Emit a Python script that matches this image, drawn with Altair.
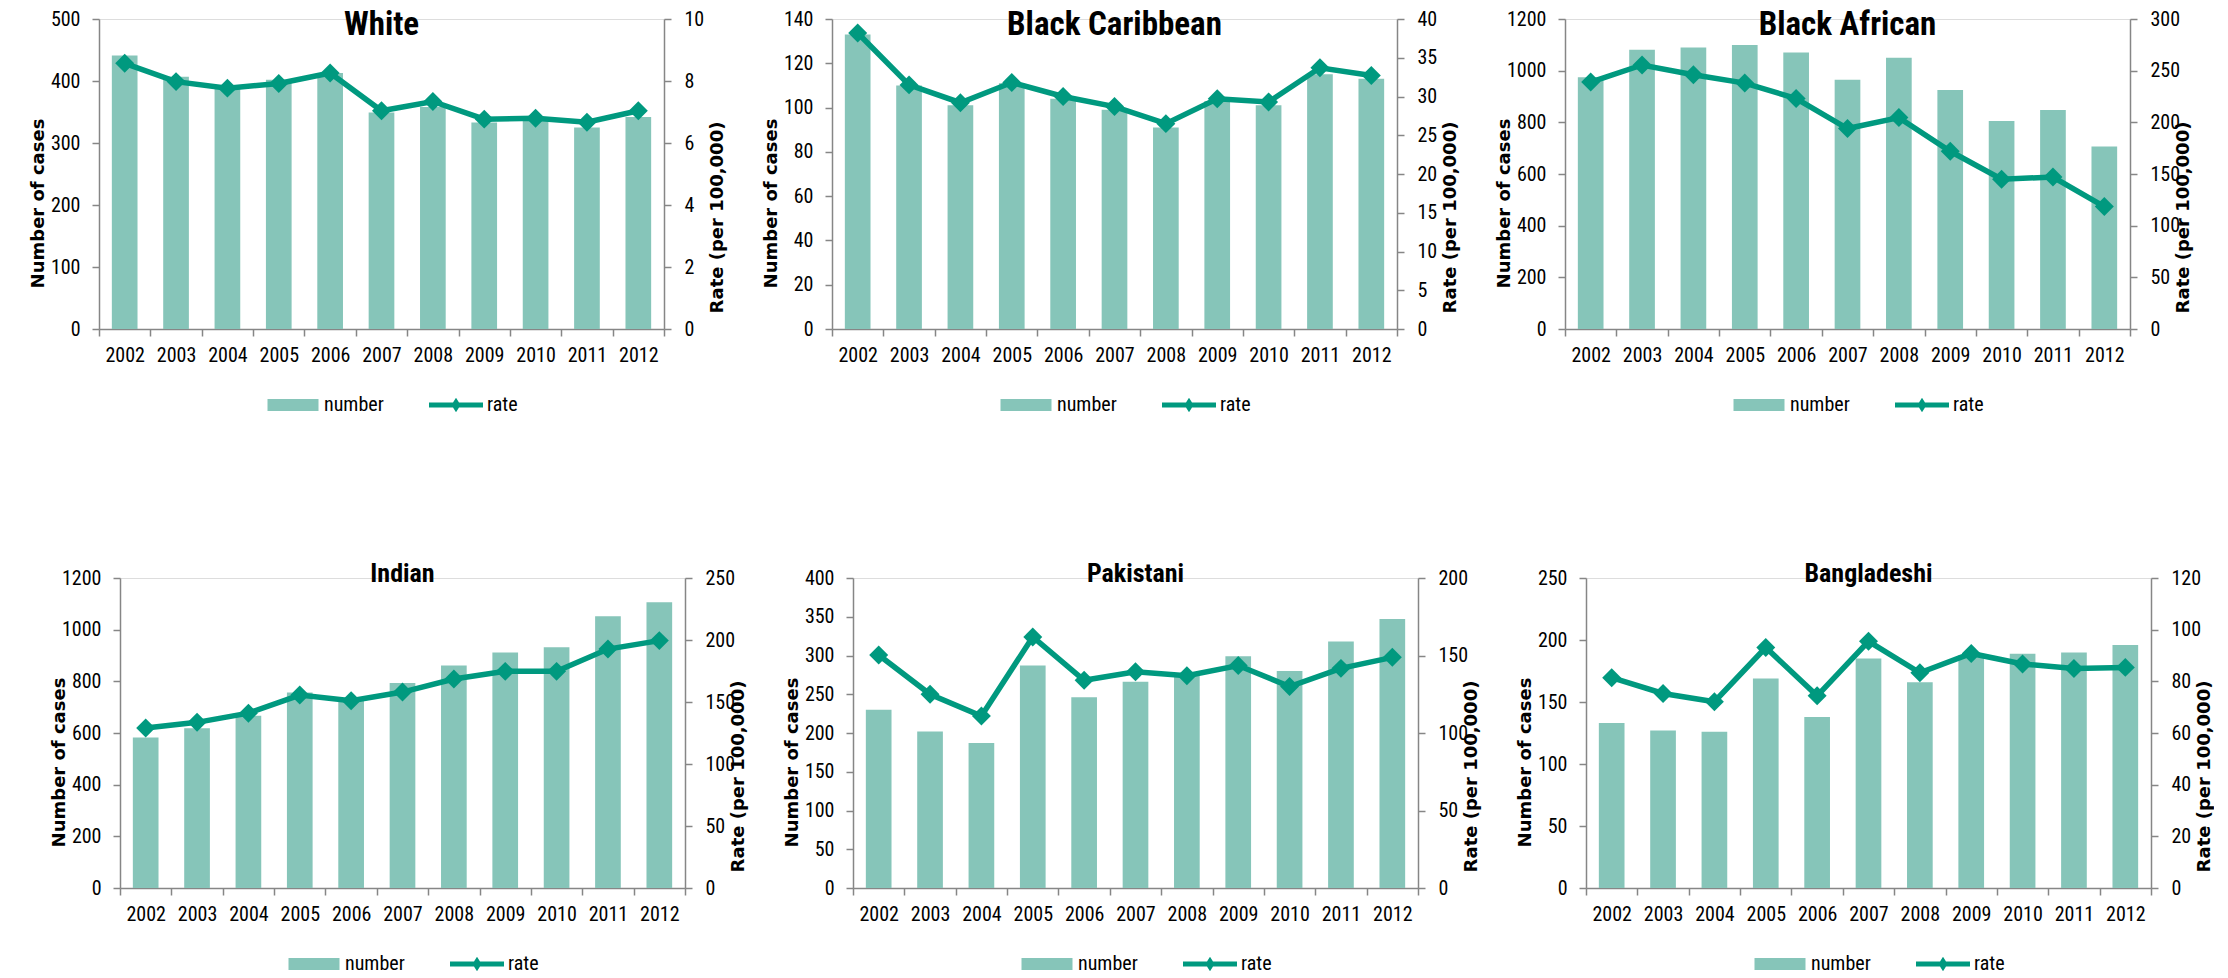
import altair as alt
import pandas as pd

years = ["2002", "2003", "2004", "2005", "2006", "2007", "2008", "2009", "2010", "2011", "2012"]

white_number = [441, 407, 389, 402, 413, 349, 358, 333, 336, 325, 342]
white_rate = [8.57, 7.98, 7.77, 7.92, 8.26, 7.04, 7.34, 6.77, 6.80, 6.67, 7.04]
white_left_ticks = [0, 100, 200, 300, 400, 500]
white_right_ticks = [0, 2, 4, 6, 8, 10]

carib_number = [133, 110, 101, 111, 104, 99, 91, 103, 101, 115, 113]
carib_rate = [38.2, 31.5, 29.2, 31.8, 30.0, 28.7, 26.5, 29.7, 29.3, 33.7, 32.7]
carib_left_ticks = [0, 20, 40, 60, 80, 100, 120, 140]
carib_right_ticks = [0, 5, 10, 15, 20, 25, 30, 35, 40]

african_number = [975, 1081, 1090, 1099, 1070, 965, 1050, 925, 805, 848, 706]
african_rate = [239, 255.5, 246, 238, 223, 194, 204.6, 172, 145, 147, 118.5]
african_left_ticks = [0, 200, 400, 600, 800, 1000, 1200]
african_right_ticks = [0, 50, 100, 150, 200, 250, 300]

indian_number = [583, 618, 667, 757, 725, 794, 861, 912, 932, 1052, 1106]
indian_rate = [129, 133.6, 141, 155.6, 151, 158, 168.5, 174.7, 174.7, 192.7, 199.5]
indian_left_ticks = [0, 200, 400, 600, 800, 1000, 1200]
indian_right_ticks = [0, 50, 100, 150, 200, 250]

pakistani_number = [230, 202, 187, 287, 246, 266, 275, 299, 280, 318, 347]
pakistani_rate = [150.3, 125, 111, 162, 134, 139.5, 137, 143.5, 130, 141.7, 148.8]
pakistani_left_ticks = [0, 50, 100, 150, 200, 250, 300, 350, 400]
pakistani_right_ticks = [0, 50, 100, 150, 200]

bangla_number = [133, 127, 126, 169, 138, 185, 166, 188, 189, 190, 196]
bangla_rate = [81.4, 75.3, 72.1, 93.1, 74.4, 95.5, 83.3, 90.8, 86.7, 85.0, 85.4]
bangla_left_ticks = [0, 50, 100, 150, 200, 250]
bangla_right_ticks = [0, 20, 40, 60, 80, 100, 120]

series_names = ["number", "rate"]

BAR = "#86c5b9"
LINE = "#00997f"
AXIS = "#868686"
NARROW = "Liberation Sans Narrow, Roboto Condensed, Liberation Sans, sans-serif"
BOLD = "DejaVu Sans"

# legend symbols (unit = 10 px with symbolSize 400)
RECT_PATH = "M-2.55,-0.6L2.55,-0.6L2.55,0.6L-2.55,0.6Z"
LINE_PATH = ("M-2.7,-0.25L-0.3,-0.25L0,-0.72L0.3,-0.25L2.7,-0.25L2.7,0.25L0.3,0.25"
             "L0,0.72L-0.3,0.25L-2.7,0.25Z")

PW, PH = 565, 310


def x_axis():
    return alt.Axis(labelAngle=0, tickBand="extent", domainColor=AXIS, domainWidth=1.5,
                    tickColor=AXIS, tickWidth=1.5, tickSize=7, labelFontSize=20,
                    labelFont=NARROW, labelColor="black", labelPadding=9, title=None,
                    grid=False)


def left_axis(ticks):
    return alt.Axis(values=ticks, format="d", domainColor=AXIS, domainWidth=1.5,
                    tickColor=AXIS, tickWidth=1.5, tickSize=7, labelFontSize=20,
                    labelFont=NARROW, labelColor="black", labelPadding=12, grid=False,
                    title="Number of cases", titleFont=BOLD, titleFontSize=18,
                    titleFontWeight="bold", titleColor="black", titleX=-61, titleY=184,
                    titleAngle=270, titleBaseline="middle", titleAlign="center")


def right_axis(ticks):
    return alt.Axis(values=ticks, format="d", orient="right", domainColor=AXIS,
                    domainWidth=1.5, tickColor=AXIS, tickWidth=1.5, tickSize=7,
                    labelFontSize=20, labelFont=NARROW, labelColor="black",
                    labelPadding=13, grid=False,
                    title="Rate (per 100,000)", titleFont=BOLD, titleFontSize=18,
                    titleFontWeight="bold", titleColor="black", titleX=53, titleY=198,
                    titleAngle=270, titleBaseline="middle", titleAlign="center")


def make_panel(name, number, rate, left_ticks, right_ticks, big):
    df = pd.DataFrame({
        "year": years,
        "number": number,
        "rate": rate,
        "s_number": [series_names[0]] * len(years),
        "s_rate": [series_names[1]] * len(years),
    })
    base = alt.Chart(df)
    x = alt.X("year:O", title=None, scale=alt.Scale(paddingInner=0, paddingOuter=0),
              axis=x_axis())
    color_scale = alt.Scale(domain=series_names, range=[BAR, LINE])
    shape_scale = alt.Scale(domain=series_names, range=[RECT_PATH, LINE_PATH])
    legend = alt.Legend(title=None, orient="none", legendX=184, legendY=376,
                        direction="horizontal", symbolSize=400, symbolOpacity=1,
                        symbolStrokeWidth=0, labelFontSize=20, labelFont=NARROW,
                        labelColor="black", columnPadding=45, labelOffset=21)
    bars = base.mark_bar(width=alt.RelativeBandSize(0.5)).encode(
        x=x,
        y=alt.Y("number:Q", scale=alt.Scale(domain=[0, left_ticks[-1]], nice=False),
                axis=left_axis(left_ticks)),
        color=alt.Color("s_number:N", scale=color_scale, legend=legend),
    )
    yr = alt.Y("rate:Q", scale=alt.Scale(domain=[0, right_ticks[-1]], nice=False),
               axis=right_axis(right_ticks))
    line = base.mark_line(color=LINE, strokeWidth=5.5).encode(x=x, y=yr)
    pts = base.mark_point(shape="diamond", filled=True, color=LINE, size=360,
                          opacity=1).encode(x=x, y=yr)
    carrier = base.mark_point(filled=True, opacity=0).encode(
        x=x, y=yr,
        color=alt.Color("s_rate:N", scale=color_scale, legend=legend),
        shape=alt.Shape("s_rate:N", scale=shape_scale, legend=legend),
    )
    right = alt.layer(line, pts, carrier)
    title = alt.TitleParams(text=name, fontSize=33 if big else 26, font=NARROW,
                            fontWeight="bold", color="black", anchor="middle",
                            frame="group", baseline="alphabetic",
                            offset=-43 if big else -19, dy=16 if big else 21)
    return alt.layer(bars, right).resolve_scale(y="independent").properties(
        width=PW, height=PH, title=title)


p1 = make_panel("White", white_number, white_rate, white_left_ticks, white_right_ticks, True)
p2 = make_panel("Black Caribbean", carib_number, carib_rate, carib_left_ticks, carib_right_ticks, True)
p3 = make_panel("Black African", african_number, african_rate, african_left_ticks, african_right_ticks, True)
p4 = make_panel("Indian", indian_number, indian_rate, indian_left_ticks, indian_right_ticks, False)
p5 = make_panel("Pakistani", pakistani_number, pakistani_rate, pakistani_left_ticks, pakistani_right_ticks, False)
p6 = make_panel("Bangladeshi", bangla_number, bangla_rate, bangla_left_ticks, bangla_right_ticks, False)

indep = dict(color="independent", shape="independent")


def spacer(w):
    return alt.Chart(pd.DataFrame({"v": [0]})).mark_point(opacity=0).properties(width=w, height=10)


top_inner = alt.hconcat(p1, p2, p3, spacing=34).resolve_scale(**indep)
bottom_inner = alt.hconcat(p4, p5, p6, spacing=34).resolve_scale(**indep)
top = alt.hconcat(spacer(1), top_inner, spacing=0).resolve_scale(**indep)
bottom = alt.hconcat(spacer(25), bottom_inner, spacing=0).resolve_scale(**indep)

chart = alt.vconcat(top, bottom, spacing=144).resolve_scale(**indep).properties(
    padding={"left": 21, "top": 8, "right": 0, "bottom": 0}
).configure_view(stroke="transparent").configure(background="white")

chart.save("out.html", embed_options={"renderer": "svg", "actions": False})
